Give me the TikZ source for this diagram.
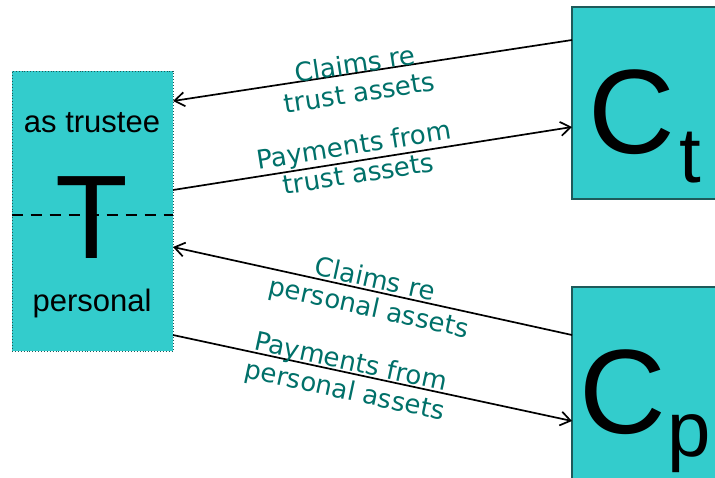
\documentclass[tikz,border=0pt]{standalone}
\usepackage{fontspec}
\setmainfont{Liberation Sans}
\newfontfamily\flowfont{DejaVu Sans}
\usetikzlibrary{arrows.meta}
\definecolor{boxfill}{HTML}{33CCCC}
\definecolor{boxedge}{HTML}{1E5A5A}
\definecolor{flowtext}{HTML}{007069}
\tikzset{
  party/.style={rectangle, fill=boxfill, draw=boxedge, line width=1.2pt, inner sep=0pt},
  flow/.style={line width=1.7pt, -{Straight Barb[length=10pt,width=14pt,line width=1.7pt]}},
  flowlabel/.style={sloped, font=\flowfont\fontsize{26}{29}\selectfont, text=flowtext, align=center, inner sep=0pt},
  bigletter/.style={font=\fontsize{120}{120}\selectfont, inner sep=0pt, anchor=base},
  subletter/.style={font=\fontsize{78}{78}\selectfont, inner sep=0pt, anchor=base},
  rolelabel/.style={font=\fontsize{31}{31}\selectfont, inner sep=0pt, anchor=base},
}
\begin{document}
\begin{tikzpicture}[x=1pt, y=-1pt]
  \useasboundingbox (0,0) rectangle (715,477);
  \clip (0,0) rectangle (715,477);

  % trustee box with its two capacities
  \node[party, minimum width=161pt, minimum height=280pt, draw=boxedge, line width=0.9pt, dotted] (T) at (92.5,211) {};
  \draw[line width=2.5pt, dash pattern=on 11pt off 8pt] (T.west |- 0,215) -- (T.east |- 0,215);
  \node[bigletter, font=\fontsize{119}{119}\selectfont] (Tletter) at (92,258) {T};
  \node[rolelabel] (trustee) at (92,132) {as trustee};
  \node[rolelabel] (personal) at (92,311) {personal};

  % creditors
  \node[party, minimum width=170pt, minimum height=192pt] (Ct) at (657,103) {};
  \node[bigletter] (CtC) at (632,153) {C};
  \node[subletter] (CtSub) at (690,182) {t};

  \node[party, minimum width=170pt, minimum height=200pt] (Cp) at (657,387) {};
  \node[bigletter] (CpC) at (623,433) {C};
  \node[subletter] (CpSub) at (689,456) {p};

  % anchor points on the box sides
  \coordinate (t1) at (173,101);
  \coordinate (t2) at (173,190);
  \coordinate (t3) at (173,247);
  \coordinate (t4) at (173,335);
  \coordinate (c1) at (572,40);
  \coordinate (c2) at (572,127);
  \coordinate (c3) at (572,335);
  \coordinate (c4) at (572,421);

  \draw[flow] (c1) -- node[flowlabel, pos=0.54, yshift=-5pt] (l1) {Claims re\\trust assets} (t1);
  \draw[flow] (t2) -- node[flowlabel, pos=0.46, yshift=2pt] (l2) {Payments from\\trust assets} (c2);
  \draw[flow] (c3) -- node[flowlabel, pos=0.50, yshift=-4pt] (l3) {Claims re\\personal assets} (t3);
  \draw[flow] (t4) -- node[flowlabel, pos=0.44, yshift=-5pt] (l4) {Payments from\\personal assets} (c4);
\end{tikzpicture}
\end{document}
